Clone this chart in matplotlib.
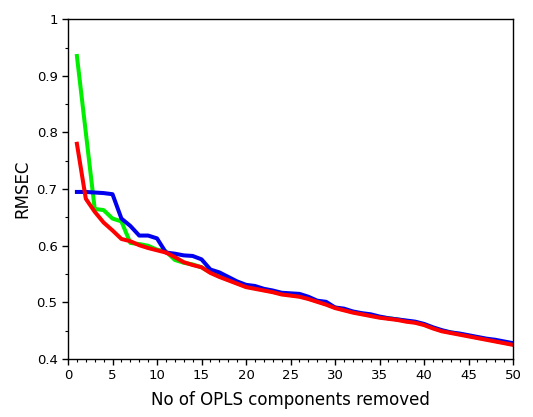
import matplotlib
matplotlib.use('Agg')
import matplotlib.pyplot as plt
from matplotlib.ticker import MultipleLocator

n_removed = list(range(1, 51))

rmsec_blue = [0.695, 0.695, 0.694, 0.693, 0.691, 0.648, 0.635, 0.618, 0.618, 0.613,
              0.588, 0.586, 0.583, 0.582, 0.576, 0.558, 0.553, 0.545, 0.537, 0.531,
              0.529, 0.524, 0.521, 0.517, 0.516, 0.515, 0.510, 0.503, 0.501, 0.491,
              0.489, 0.484, 0.481, 0.479, 0.475, 0.472, 0.470, 0.468, 0.466, 0.462,
              0.456, 0.451, 0.447, 0.445, 0.442, 0.439, 0.436, 0.434, 0.431, 0.428]

rmsec_green = [0.935, 0.800, 0.665, 0.663, 0.648, 0.643, 0.605, 0.603, 0.600, 0.593,
               0.590, 0.575, 0.570, 0.567, 0.562, 0.553, 0.546, 0.540, 0.534, 0.528,
               0.525, 0.522, 0.519, 0.515, 0.513, 0.511, 0.507, 0.502, 0.497, 0.491,
               0.487, 0.483, 0.480, 0.477, 0.474, 0.472, 0.470, 0.467, 0.465, 0.461,
               0.455, 0.450, 0.447, 0.444, 0.441, 0.438, 0.435, 0.432, 0.429, 0.426]

rmsec_red = [0.780, 0.683, 0.660, 0.641, 0.627, 0.612, 0.608, 0.601, 0.596, 0.592,
             0.588, 0.580, 0.571, 0.566, 0.562, 0.552, 0.545, 0.539, 0.533, 0.527,
             0.524, 0.521, 0.518, 0.514, 0.512, 0.510, 0.506, 0.501, 0.496, 0.490,
             0.486, 0.482, 0.479, 0.476, 0.473, 0.471, 0.469, 0.466, 0.464, 0.460,
             0.454, 0.449, 0.446, 0.443, 0.440, 0.437, 0.434, 0.431, 0.428, 0.425]

fig = plt.figure(figsize=(5.33, 4.17), dpi=100)
ax = fig.add_axes([0.1276, 0.139, 0.835, 0.815])

ax.plot(n_removed, rmsec_green, color='#00ee00', lw=2.9)
ax.plot(n_removed, rmsec_blue, color='#0000ee', lw=2.9)
ax.plot(n_removed, rmsec_red, color='#ff0000', lw=2.9)

ax.set_xlim(0, 50)
ax.set_ylim(0.4, 1)
ax.xaxis.set_major_locator(MultipleLocator(5))
ax.xaxis.set_minor_locator(MultipleLocator(1))
ax.yaxis.set_minor_locator(MultipleLocator(0.05))
ax.set_yticks([0.4, 0.5, 0.6, 0.7, 0.8, 0.9, 1.0])
ax.set_yticklabels(['0.4', '0.5', '0.6', '0.7', '0.8', '0.9', '1'])
ax.tick_params(which='major', length=4, width=1, labelsize=9.5, top=False, right=False)
ax.tick_params(which='minor', length=2.5, width=0.8, top=False, right=False)
for s in ax.spines.values():
    s.set_linewidth(1.0)

ax.set_xlabel('No of OPLS components removed', fontsize=12, labelpad=6)
ax.set_ylabel('RMSEC', fontsize=12)

fig.savefig('out.png', dpi=100)
